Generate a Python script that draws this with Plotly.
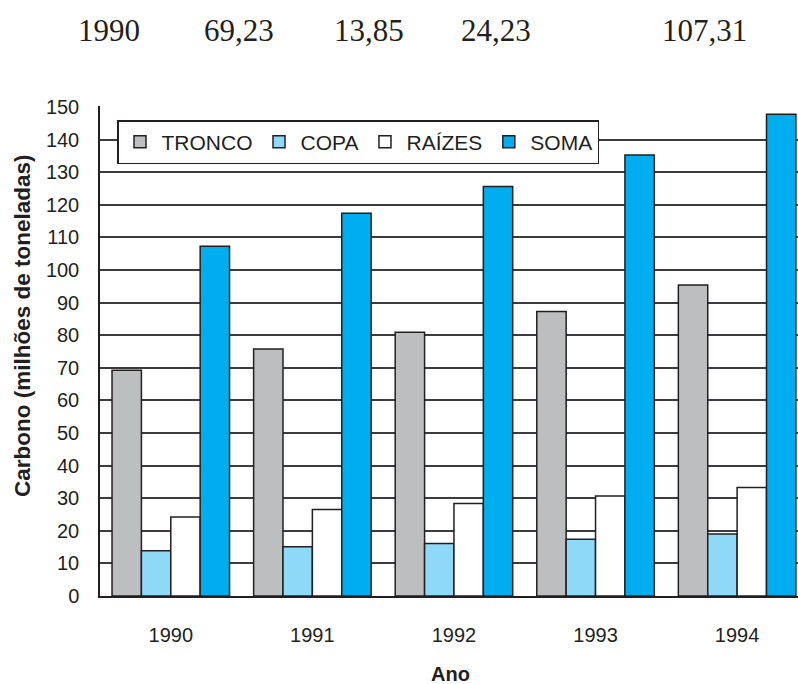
import plotly.graph_objects as go

anos = ["1990", "1991", "1992", "1993", "1994"]
tronco = [69.23, 75.8, 80.9, 87.3, 95.4]
copa = [13.85, 15.1, 16.1, 17.4, 19.0]
raizes = [24.23, 26.5, 28.4, 30.7, 33.3]
soma = [107.31, 117.4, 125.6, 135.3, 147.8]

topo_textos = ["1990", "69,23", "13,85", "24,23", "107,31"]
topo_x_px = [109, 239, 369, 496, 704]

series = [
    ("TRONCO", tronco, "#bcbec0"),
    ("COPA", copa, "#8fd9f8"),
    ("RAÍZES", raizes, "#ffffff"),
    ("SOMA", soma, "#00aeef"),
]

W, H = 798, 684
L, R, T, B = 100, 0, 106, 88
pw = W - L - R
ph = H - T - B

fig = go.Figure()
for nome, vals, cor in series:
    fig.add_trace(go.Bar(
        x=anos, y=vals, name=nome,
        marker=dict(color=cor, line=dict(color="#231f20", width=1.5)),
    ))

ann = []
for txt, xp in zip(topo_textos, topo_x_px):
    ann.append(dict(
        text=txt, xref="paper", yref="paper",
        x=(xp - L) / pw, y=(H - B - 31) / ph,
        xanchor="center", yanchor="middle", showarrow=False,
        font=dict(family="Liberation Serif", size=31, color="#231f20"),
    ))
ann.append(dict(
    text="<b>Carbono (milhões de toneladas)</b>", xref="paper", yref="paper",
    x=(22 - L) / pw, y=(H - B - 326) / ph, textangle=-90,
    xanchor="center", yanchor="middle", showarrow=False,
    font=dict(family="Liberation Sans", size=22.5, color="#231f20"),
))
ann.append(dict(
    text="<b>Ano</b>", xref="paper", yref="paper",
    x=(450 - L) / pw, y=-(674 - (H - B)) / ph,
    xanchor="center", yanchor="middle", showarrow=False,
    font=dict(family="Liberation Sans", size=20, color="#231f20"),
))

fig.update_layout(
    width=W, height=H,
    margin=dict(l=L, r=R, t=T, b=B, pad=0),
    paper_bgcolor="white", plot_bgcolor="white",
    barmode="group", bargap=0.17, bargroupgap=0,
    font=dict(family="Liberation Sans", size=20, color="#231f20"),
    showlegend=True,
    legend=dict(
        orientation="h", x=(117 - L) / pw, y=(H - B - 120) / ph,
        xanchor="left", yanchor="top",
        bgcolor="white", bordercolor="#231f20", borderwidth=1.5,
        font=dict(family="Liberation Sans", size=21, color="#231f20"),
        traceorder="normal", itemclick=False, itemwidth=33,
    ),
    annotations=ann,
)
fig.update_xaxes(
    type="category", range=[-0.5, 4.43],
    showline=True, linecolor="#231f20", linewidth=1.5,
    showgrid=False, ticks="", ticklabelstandoff=20,
    tickfont=dict(size=20),
)
fig.update_yaxes(
    range=[0, 150.3], tickvals=list(range(0, 151, 10)),
    showline=True, linecolor="#231f20", linewidth=1.5,
    showgrid=True, gridcolor="#3c3c3c", gridwidth=1.5,
    zeroline=False, ticks="", ticklabelstandoff=15,
    tickfont=dict(size=20),
)

fig.write_html("out.html", config={"displayModeBar": False},
               post_script="document.body.style.margin='0';")
